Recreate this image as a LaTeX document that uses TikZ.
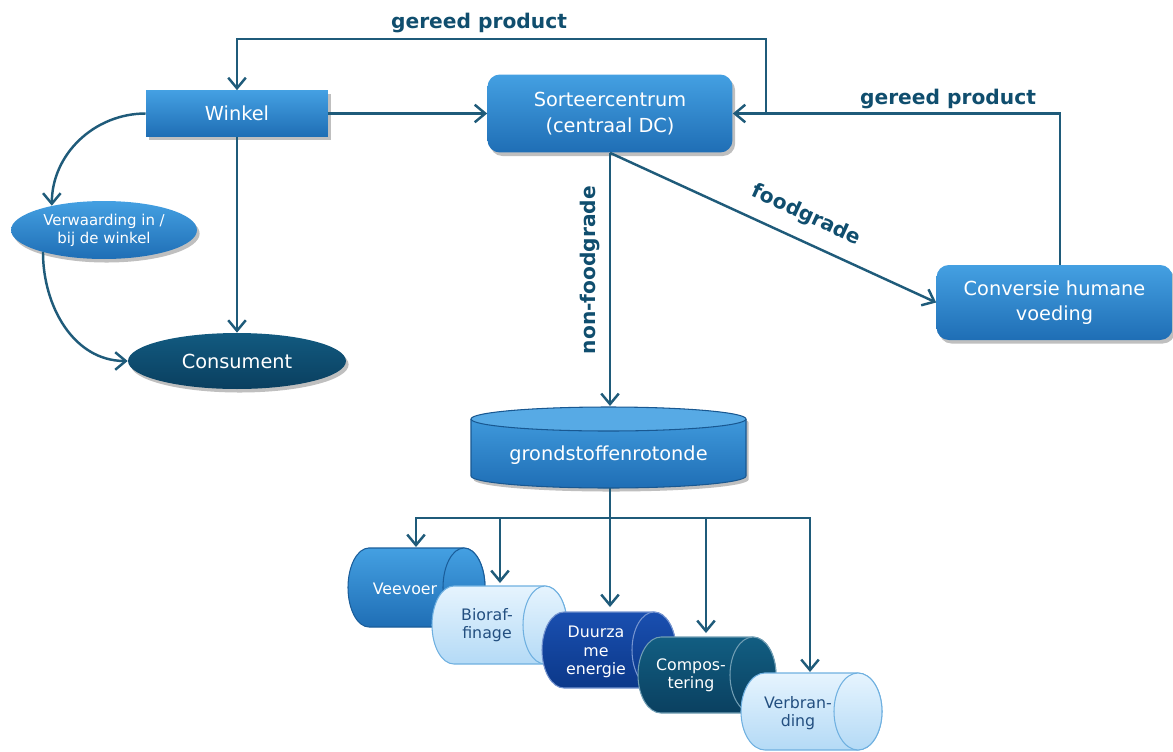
\documentclass[tikz,border=0pt]{standalone}
\usepackage{fontspec}
\setmainfont{DejaVu Sans}
\usetikzlibrary{arrows.meta,shadows,shapes.geometric}
\definecolor{linec}{HTML}{1F5B7A}
\definecolor{labc}{HTML}{104E6E}
\definecolor{boxtop}{HTML}{44A0E2}
\definecolor{boxbot}{HTML}{1F6EB5}
\definecolor{constop}{HTML}{125A80}
\definecolor{consbot}{HTML}{0A3F5F}
\definecolor{lighttop}{HTML}{E6F4FE}
\definecolor{lightbot}{HTML}{B4DAF6}
\definecolor{lightdraw}{HTML}{6FB0E0}
\definecolor{lighttext}{HTML}{234F80}
\definecolor{navytop}{HTML}{1A4FB0}
\definecolor{navybot}{HTML}{0B3889}
\definecolor{tealtop}{HTML}{125E82}
\definecolor{tealbot}{HTML}{0A4060}
\newcommand\hcyl[6]{%
  \pgfmathsetmacro\hcA{#1+#5}%
  \pgfmathsetmacro\hcB{#2-#5}%
  \pgfmathsetmacro\hcC{(#3+#4)/2}%
  \pgfmathsetmacro\hcR{(#4-#3)/2}%
  \draw[#6] (\hcA,#3) -- (\hcB,#3) arc[start angle=-90,end angle=90,x radius=#5,y radius=\hcR] -- (\hcA,#4) arc[start angle=90,end angle=270,x radius=#5,y radius=\hcR] -- cycle;
  \draw[#6] (\hcB,\hcC) ellipse[x radius=#5, y radius=\hcR];
}
\begin{document}
\begin{tikzpicture}[x=0.02cm,y=-0.02cm,
  line/.style={draw=linec, line width=1.4pt},
  arr/.style={line, -{Straight Barb[length=6pt,width=10pt]}},
  shad/.style={drop shadow={shadow xshift=1.5pt, shadow yshift=-2pt, opacity=0.25, fill=black}},
  box/.style={rectangle, text=white, top color=boxtop, bottom color=boxbot, draw=none,
    font=\fontsize{11}{14.5}\selectfont, align=center, inner sep=0pt, shad},
  lbl/.style={font=\bfseries\fontsize{11.5}{13}\selectfont, text=labc, inner sep=2pt},
  cyltxt/.style={font=\fontsize{9}{10.5}\selectfont, align=center, inner sep=0pt},
  cylmid/.style={top color=boxtop, bottom color=boxbot, draw=boxbot!85!black, line width=0.6pt},
  cyllight/.style={top color=lighttop, bottom color=lightbot, draw=lightdraw, line width=0.6pt},
  cylnavy/.style={top color=navytop, bottom color=navybot, draw=navytop!60!white, line width=0.6pt},
  cylteal/.style={top color=tealtop, bottom color=tealbot, draw=tealtop!60!white, line width=0.6pt}
]
\useasboundingbox (0,0) rectangle (1173,751);

% main nodes
\node[box, minimum width=3.64cm, minimum height=0.92cm] (winkel) at (237,113.5) {Winkel};
\node[box, rounded corners=7pt, minimum width=4.9cm, minimum height=1.56cm] (sort) at (610,113.5) {Sorteercentrum\\(centraal DC)};
\node[box, rounded corners=7pt, minimum width=4.72cm, minimum height=1.5cm] (conv) at (1054.5,302.5) {Conversie humane\\voeding};
\node[box, ellipse, minimum width=3.72cm, minimum height=1.16cm, font=\fontsize{8.5}{10.2}\selectfont] (verw) at (104,230) {Verwaarding in /\\bij de winkel};
\node[box, ellipse, top color=constop, bottom color=consbot, minimum width=4.36cm, minimum height=1.12cm] (cons) at (237,361) {Consument};

% grondstoffenrotonde cylinder
\path[shad, top color=boxtop, bottom color=boxbot] (471,419) -- (471,476) arc[start angle=180,end angle=0,x radius=137.5,y radius=12] -- (746,419) arc[start angle=0,end angle=-180,x radius=137.5,y radius=12] -- cycle;
\draw[draw=boxbot!80!black, line width=0.6pt] (471,419) -- (471,476) arc[start angle=180,end angle=0,x radius=137.5,y radius=12] -- (746,419);
\draw[fill=boxtop!90!white, draw=boxbot!80!black, line width=0.6pt] (608.5,419) ellipse[x radius=137.5, y radius=12];
\node[text=white, font=\fontsize{11}{13}\selectfont] (grond) at (608.5,455) {grondstoffenrotonde};
\coordinate (grondtop) at (610,406);
\coordinate (grondbot) at (610,488);

% lying cylinders
\hcyl{348}{485}{548}{627}{21}{cylmid}
\node[cyltxt, text=white] (veevoer) at (405,589) {Veevoer};
\hcyl{432}{567}{586}{664}{22}{cyllight}
\node[cyltxt, text=lighttext] (bioraf) at (487,625) {Bioraf-\\finage};
\hcyl{542}{676}{612}{688}{22}{cylnavy}
\node[cyltxt, text=white] (duurzaam) at (596,652) {Duurza\\me\\energie};
\hcyl{638}{776}{637}{713}{23}{cylteal}
\node[cyltxt, text=white] (compost) at (691,675) {Compos-\\tering};
\hcyl{741}{882}{673}{750}{24}{cyllight}
\node[cyltxt, text=lighttext] (verbrand) at (798,713) {Verbran-\\ding};

% coordinates
\coordinate (j) at (766,113.5);
\coordinate (jt) at (766,39);
\coordinate (bus) at (610,518);
\coordinate (b2) at (500,518);
\coordinate (b4) at (706,518);
\coordinate (t1) at (416,547);
\coordinate (t2) at (500,583);
\coordinate (t3) at (610,607);
\coordinate (t4) at (706,633);
\coordinate (t5) at (810,672);

% connectors
\draw[arr] (winkel.east) -- (sort.west);
\draw[arr] (winkel.south) -- (cons.north);
\draw[arr] (winkel.west) to[out=180,in=90] (verw.155);
\draw[arr] (verw.200) to[out=-90,in=180] (cons.west);
\draw[arr] ([xshift=3pt]conv.north) |- (sort.east);
\draw[arr] (j) -- (jt) -| (winkel.north);
\draw[arr] (sort.south) -- (conv.west) node[lbl, pos=0.57, sloped, above=6pt] (fg) {foodgrade};
\draw[arr] (sort.south) -- (grondtop);
\node[lbl, rotate=90, anchor=south] (nfg) at (604,270) {non-foodgrade};
\node[lbl] (gp1) at (479,23) {gereed product};
\node[lbl] (gp2) at (948,99) {gereed product};

\draw[line] (grondbot) -- (bus);
\draw[arr] (bus) -| (t1);
\draw[arr] (bus) -| (t5);
\draw[arr] (b2) -- (t2);
\draw[arr] (bus) -- (t3);
\draw[arr] (b4) -- (t4);
\end{tikzpicture}
\end{document}
